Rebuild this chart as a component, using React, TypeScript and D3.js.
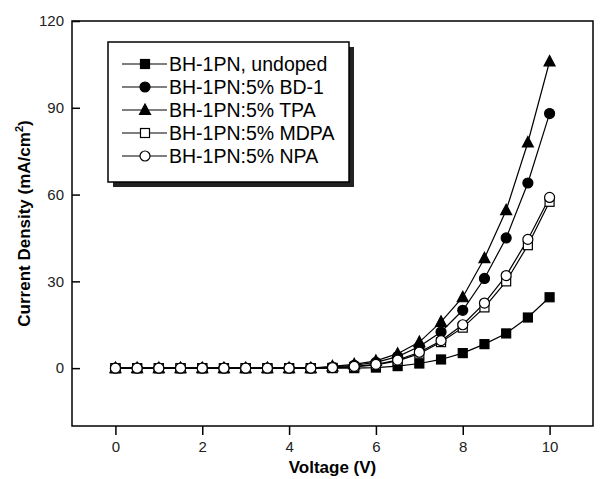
import React, { useEffect, useRef } from 'react';
import * as d3 from 'd3';

// Voltage steps (V)
const voltage = [0, 0.5, 1, 1.5, 2, 2.5, 3, 3.5, 4, 4.5, 5, 5.5, 6, 6.5, 7, 7.5, 8, 8.5, 9, 9.5, 10];

// Current density (mA/cm^2) per device
const undoped = [0, 0, 0, 0, 0, 0, 0, 0, 0, 0, 0, 0, 0.2, 0.7, 1.6, 3, 5.2, 8.3, 12, 17.5, 24.5];
const bd1 = [0, 0, 0, 0, 0, 0, 0, 0, 0, 0, 0.4, 1, 2, 4, 7.5, 12.5, 20, 31, 45, 64, 88];
const tpa = [0, 0, 0, 0, 0, 0, 0, 0, 0, 0, 0.6, 1.3, 2.5, 5, 9, 16, 24.5, 38, 54.6, 78, 106];
const mdpa = [0, 0, 0, 0, 0, 0, 0, 0, 0, 0, 0.1, 0.4, 1.1, 2.5, 5, 9, 14, 21, 30, 42.5, 57.5];
const npa = [0, 0, 0, 0, 0, 0, 0, 0, 0, 0, 0.2, 0.6, 1.3, 2.8, 5.5, 9.5, 15, 22.5, 32, 44.5, 59];

const seriesNames = ['BH-1PN, undoped', 'BH-1PN:5% BD-1', 'BH-1PN:5% TPA', 'BH-1PN:5% MDPA', 'BH-1PN:5% NPA'];
const seriesValues = [undoped, bd1, tpa, mdpa, npa];
// marker shape and fill for each series
const markerShapes = ['square', 'circle', 'triangle', 'square', 'circle'];
const markerFilled = [true, true, true, false, false];

const xTicks = [0, 2, 4, 6, 8, 10];
const yTicks = [0, 30, 60, 90, 120];

function App() {
  const ref = useRef<SVGSVGElement>(null);

  useEffect(() => {
    const width = 607;
    const height = 479;
    const margin = { top: 21, right: 14, bottom: 53, left: 72 };
    const font = '"Liberation Sans", Arial, sans-serif';

    const svg = d3.select(ref.current);
    svg.selectAll('*').remove();

    const x = d3.scaleLinear().domain([-1, 11]).range([margin.left, width - margin.right]);
    const y = d3.scaleLinear().domain([-20, 120]).range([height - margin.bottom, margin.top]);

    // frame
    svg.append('rect')
      .attr('x', margin.left)
      .attr('y', margin.top)
      .attr('width', width - margin.left - margin.right)
      .attr('height', height - margin.top - margin.bottom)
      .attr('fill', 'none')
      .attr('stroke', '#000')
      .attr('stroke-width', 1.5);

    // x axis, ticks pointing out
    const xAxis = svg.append('g').attr('transform', `translate(0,${height - margin.bottom})`);
    xAxis.call(d3.axisBottom(x).tickValues(d3.range(-1, 12, 1)).tickSize(5).tickFormat(() => ''));
    xAxis.call(d3.axisBottom(x).tickValues(xTicks).tickSize(9).tickPadding(6).tickFormat(d3.format('d')));
    xAxis.selectAll('.domain').remove();
    xAxis.selectAll('line').attr('stroke-width', 1.5);
    xAxis.selectAll('text').style('font-family', font).style('font-size', '15px').attr('fill', '#222');

    // y axis, ticks pointing in
    const yAxis = svg.append('g').attr('transform', `translate(${margin.left},0)`);
    yAxis.call(d3.axisLeft(y).tickValues(d3.range(-15, 121, 15)).tickSize(-5).tickFormat(() => ''));
    yAxis.call(d3.axisLeft(y).tickValues(yTicks).tickSize(-8).tickPadding(8).tickFormat(d3.format('d')));
    yAxis.selectAll('.domain').remove();
    yAxis.selectAll('line').attr('stroke-width', 1.5);
    yAxis.selectAll('text').style('font-family', font).style('font-size', '15px').attr('fill', '#222');

    // axis titles
    svg.append('text')
      .attr('x', (margin.left + width - margin.right) / 2)
      .attr('y', 473)
      .attr('text-anchor', 'middle')
      .style('font-family', font)
      .style('font-size', '17px')
      .style('font-weight', 'bold')
      .text('Voltage (V)');

    const yTitle = svg.append('text')
      .attr('transform', `translate(30,${(margin.top + height - margin.bottom) / 2}) rotate(-90)`)
      .attr('text-anchor', 'middle')
      .style('font-family', font)
      .style('font-size', '17px')
      .style('font-weight', 'bold');
    yTitle.append('tspan').text('Current Density (mA/cm');
    yTitle.append('tspan').attr('dy', -7).style('font-size', '11px').text('2');
    yTitle.append('tspan').attr('dy', 7).text(')');

    const drawMarker = (g: any, shape: string, filled: boolean, cx: number, cy: number) => {
      const fill = filled ? '#000' : '#fff';
      if (shape === 'square') {
        g.append('rect')
          .attr('x', cx - 4.5).attr('y', cy - 4.5)
          .attr('width', 9).attr('height', 9)
          .attr('fill', fill).attr('stroke', '#000').attr('stroke-width', 1.2);
      } else if (shape === 'circle') {
        g.append('circle')
          .attr('cx', cx).attr('cy', cy).attr('r', 5)
          .attr('fill', fill).attr('stroke', '#000').attr('stroke-width', 1.2);
      } else {
        g.append('path')
          .attr('d', `M${cx},${cy - 6}L${cx + 5.5},${cy + 4.5}L${cx - 5.5},${cy + 4.5}Z`)
          .attr('fill', fill).attr('stroke', '#000').attr('stroke-width', 1.2);
      }
    };

    const line = d3.line<number>()
      .x((d, i) => x(voltage[i]))
      .y(d => y(d));

    const plot = svg.append('g');
    seriesValues.forEach((vals) => {
      plot.append('path')
        .attr('d', line(vals))
        .attr('fill', 'none')
        .attr('stroke', '#000')
        .attr('stroke-width', 1.2);
    });
    seriesValues.forEach((vals, s) => {
      const g = plot.append('g');
      vals.forEach((v, i) => drawMarker(g, markerShapes[s], markerFilled[s], x(voltage[i]), y(v)));
    });

    // legend with drop shadow
    const lx = 108, ly = 42, lw = 241, lh = 140;
    svg.append('rect')
      .attr('x', lx + 5).attr('y', ly + 5)
      .attr('width', lw).attr('height', lh)
      .attr('fill', '#222');
    svg.append('rect')
      .attr('x', lx).attr('y', ly)
      .attr('width', lw).attr('height', lh)
      .attr('fill', '#fff')
      .attr('stroke', '#000')
      .attr('stroke-width', 1.5);

    seriesNames.forEach((name, i) => {
      const ry = 64 + i * 23;
      const g = svg.append('g');
      g.append('line')
        .attr('x1', 122).attr('x2', 167)
        .attr('y1', ry).attr('y2', ry)
        .attr('stroke', '#000').attr('stroke-width', 1.2);
      drawMarker(g, markerShapes[i], markerFilled[i], 145, ry);
      g.append('text')
        .attr('x', 169).attr('y', ry + 7)
        .style('font-family', font)
        .style('font-size', '19.5px')
        .text(name);
    });
  }, []);

  return (
    <svg
      ref={ref}
      width={607}
      height={479}
      style={{ position: 'absolute', left: 0, top: 0, background: '#fff' }}
    />
  );
}

export default App;
